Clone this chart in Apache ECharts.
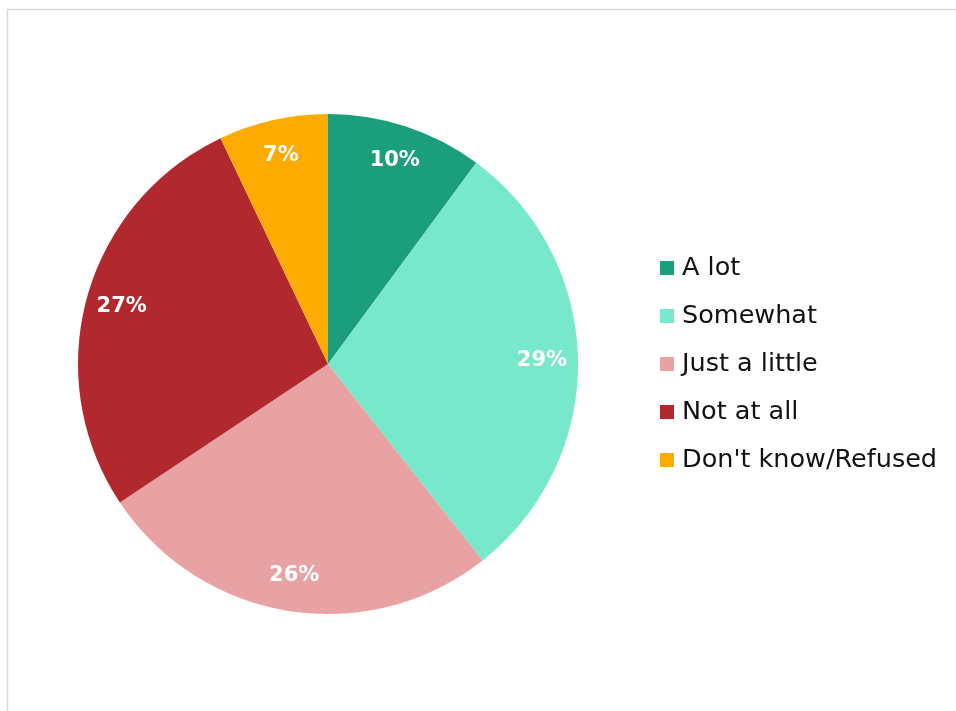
<!DOCTYPE html>
<html>
<head>
<meta charset="utf-8">
<script src="https://cdn.jsdelivr.net/npm/echarts@6/dist/echarts.min.js"></script>
<style>
  html, body { margin: 0; padding: 0; background: #ffffff; }
  #chart { width: 956px; height: 711px; }
</style>
</head>
<body>
<div id="chart"></div>
<script>
// Survey responses, in percent
const categories = ['A lot', 'Somewhat', 'Just a little', 'Not at all', "Don't know/Refused"];
const values = [10, 29, 26, 27, 7];
const colors = ['#1b9e7a', '#77e8c9', '#e8a2a4', '#b2282f', '#fdab00'];

const pieData = categories.map((name, i) => ({
  name: name,
  value: values[i],
  itemStyle: { color: colors[i] }
}));

const chart = echarts.init(document.getElementById('chart'), null, { renderer: 'canvas' });

const FONT = '"DejaVu Sans", "Noto Sans", sans-serif';

chart.setOption({
  animation: false,
  backgroundColor: '#ffffff',
  graphic: [{
    type: 'rect',
    shape: { x: 7.5, y: 9.5, width: 1200, height: 1200 },
    style: { fill: 'none', stroke: '#d9d9d9', lineWidth: 1.5 },
    silent: true,
    z: 0
  }],
  legend: {
    orient: 'vertical',
    left: 660,
    top: 255,
    padding: 0,
    icon: 'rect',
    itemWidth: 14,
    itemHeight: 14,
    itemGap: 22,
    itemStyle: { borderWidth: 0 },
    data: categories,
    textStyle: { fontFamily: FONT, fontSize: 25.5, color: '#111111', lineHeight: 26, padding: [0, 0, 0, 3] }
  },
  series: [
    {
      // filled slices
      type: 'pie',
      center: [328, 364],
      radius: [0, 250],
      startAngle: 90,
      clockwise: true,
      label: { show: false },
      labelLine: { show: false },
      itemStyle: { borderWidth: 0 },
      emphasis: { disabled: true },
      data: pieData
    },
    {
      // transparent ring carrying the percentage labels near the outer edge
      type: 'pie',
      center: [328, 364],
      radius: [172, 250],
      startAngle: 90,
      clockwise: true,
      silent: true,
      legendHoverLink: false,
      itemStyle: { color: 'rgba(0,0,0,0)', borderWidth: 0 },
      label: {
        show: true,
        position: 'inside',
        formatter: '{c}%',
        color: '#ffffff',
        fontFamily: FONT,
        fontWeight: 'bold',
        fontSize: 21,
        padding: [6, 0, 0, 0]
      },
      labelLine: { show: false },
      emphasis: { disabled: true },
      data: categories.map((name, i) => ({ name: name + ' ', value: values[i] }))
    }
  ]
});
</script>
</body>
</html>
